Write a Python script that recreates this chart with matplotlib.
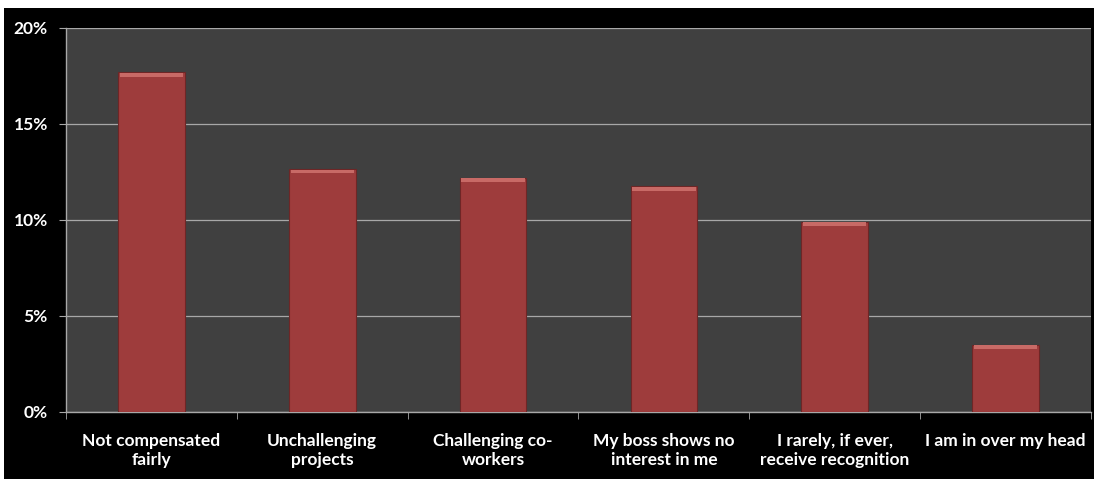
import matplotlib.pyplot as plt
from matplotlib.patches import Rectangle
from matplotlib.ticker import FuncFormatter, FixedLocator

categories = ["Not compensated\nfairly", "Unchallenging\nprojects", "Challenging co-\nworkers",
              "My boss shows no\ninterest in me", "I rarely, if ever,\nreceive recognition",
              "I am in over my head"]
values = [17.7, 12.65, 12.2, 11.75, 9.9, 3.5]
yticks = [0, 5, 10, 15, 20]

plt.rcParams['font.family'] = ['Lato', 'DejaVu Sans']

fig = plt.figure(figsize=(10.94, 4.79), dpi=100, facecolor="white")
# black chart area (a thin white strip is left at top/left like the original)
fig.patches.append(Rectangle((4 / 1094, 0), 1, 1 - 8 / 479, transform=fig.transFigure,
                             facecolor="black", edgecolor="none", zorder=-5))

ax = fig.add_axes([66 / 1094, (479 - 411.7) / 479, (1091 - 66) / 1094, (411.7 - 28) / 479])
ax.set_zorder(2)
ax.set_facecolor("#404040")

x = list(range(len(categories)))
ax.bar(x, values, width=0.39, color="#9e3c3c", edgecolor="#6e2626", linewidth=0.8, zorder=3)
# light bevel at the top of each bar
ax.bar(x, [0.2] * len(values), width=0.37, bottom=[v - 0.23 for v in values],
       color="#c86a66", linewidth=0, zorder=4)

ax.set_xlim(-0.5, len(categories) - 0.5)
ax.set_ylim(0, 20)
ax.set_yticks(yticks)
ax.yaxis.set_major_formatter(FuncFormatter(lambda v, p: f"{v:.0f}%"))
ax.yaxis.grid(True, color="#a8a8a8", linewidth=0.9, zorder=1)
ax.set_axisbelow(True)

ax.set_xticks(x)
ax.set_xticklabels(categories, fontsize=12.5, fontweight="bold", color="white", linespacing=1.25)
ax.xaxis.set_minor_locator(FixedLocator([i + 0.5 for i in range(-1, len(categories))]))
ax.tick_params(axis="x", which="major", length=0, pad=15)
ax.tick_params(axis="x", which="minor", length=5, color="#a8a8a8", direction="out")
ax.tick_params(axis="y", length=5, color="#a8a8a8", labelcolor="white", labelsize=12.5, pad=8)
for lbl in ax.get_yticklabels():
    lbl.set_fontweight("bold")

for side in ["top", "right"]:
    ax.spines[side].set_visible(False)
for side in ["left", "bottom"]:
    ax.spines[side].set_color("#a8a8a8")
    ax.spines[side].set_linewidth(1)

fig.savefig("out.png", dpi=100, facecolor=fig.get_facecolor())
